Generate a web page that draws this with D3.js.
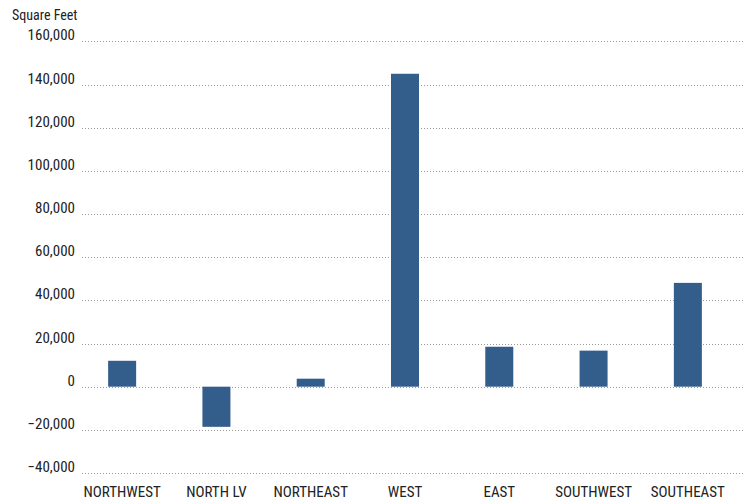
<!DOCTYPE html>
<html>
<head>
<meta charset="utf-8">
<script src="https://cdn.jsdelivr.net/npm/d3@7"></script>
<style>
  body { margin: 0; background: #fff; }
  text { font-family: "Liberation Sans Narrow", "Arial Narrow", "Roboto Condensed", Arial, sans-serif; fill: #222; }
</style>
</head>
<body>
<div id="chart"></div>
<script>
const regions = ["NORTHWEST", "NORTH LV", "NORTHEAST", "WEST", "EAST", "SOUTHWEST", "SOUTHEAST"];
const sqft = [12000, -18600, 3700, 145000, 18500, 16700, 48100];
const yTicks = [-40000, -20000, 0, 20000, 40000, 60000, 80000, 100000, 120000, 140000, 160000];

const width = 743, height = 502;
const svg = d3.select("#chart").append("svg")
    .attr("width", width)
    .attr("height", height);

const y = d3.scaleLinear().domain([-40000, 160000]).range([473, 41.4]);
const x = d3.scalePoint().domain(regions).range([75, 735]).padding(0.5);
const barW = 28;

// gridlines
svg.append("g").selectAll("line")
    .data(yTicks)
    .enter().append("line")
    .attr("x1", 82).attr("x2", width)
    .attr("y1", d => Math.round(y(d)) + 0.5)
    .attr("y2", d => Math.round(y(d)) + 0.5)
    .attr("stroke", "#9a9a9a")
    .attr("stroke-width", 1)
    .attr("stroke-dasharray", "1,2");

// tick labels
svg.append("g").selectAll("text")
    .data(yTicks)
    .enter().append("text")
    .attr("x", 75)
    .attr("y", d => y(d) - 1)
    .attr("text-anchor", "end")
    .attr("font-size", 15)
    .text(d => d3.format(",")(d));

svg.append("text")
    .attr("x", 12).attr("y", 20)
    .attr("font-size", 14)
    .text("Square Feet");

// bars
svg.append("g").selectAll("rect")
    .data(sqft)
    .enter().append("rect")
    .attr("x", (d, i) => x(regions[i]) - barW / 2)
    .attr("y", d => y(Math.max(0, d)))
    .attr("width", barW)
    .attr("height", d => Math.abs(y(d) - y(0)))
    .attr("fill", "#335d8b");

// category labels
svg.append("g").selectAll("text")
    .data(regions)
    .enter().append("text")
    .attr("x", d => x(d))
    .attr("y", 497)
    .attr("text-anchor", "middle")
    .attr("font-size", 15)
    .text(d => d);
</script>
</body>
</html>
